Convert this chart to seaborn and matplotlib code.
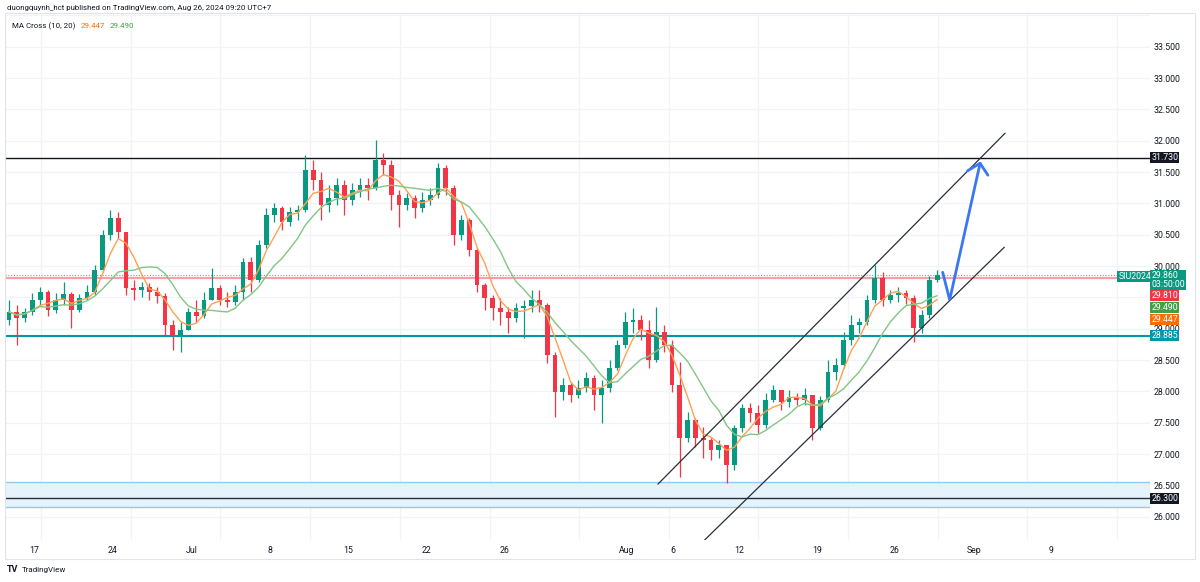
import numpy as np
import pandas as pd
import matplotlib
matplotlib.use("Agg")
import matplotlib.pyplot as plt
import matplotlib.transforms as mtransforms
from matplotlib.patches import Rectangle
import seaborn as sns

# ---------------- data (SIU2024 candles) ----------------
first_open = 29.14
close = [29.27, 29.17, 29.27, 29.46, 29.59, 29.30, 29.46, 29.55, 29.30, 29.49,
         29.59, 29.94, 30.50, 30.77, 30.54, 29.65, 29.62, 29.67, 29.59, 29.52,
         29.06, 28.90, 28.98, 29.27, 29.20, 29.46, 29.65, 29.46, 29.43, 29.59,
         30.06, 29.78, 30.34, 30.81, 30.93, 30.70, 30.86, 30.89, 31.53, 31.37,
         30.97, 31.09, 31.29, 31.05, 31.21, 31.29, 31.25, 31.69, 31.61, 31.13,
         30.97, 31.09, 30.93, 31.05, 31.13, 31.56, 31.25, 30.50, 30.73, 30.26,
         29.70, 29.49, 29.33, 29.27, 29.17, 29.33, 29.36, 29.46, 29.38, 28.58,
         27.99, 28.10, 27.94, 28.05, 28.21, 27.94, 28.05, 28.37, 28.74, 29.11,
         29.14, 28.98, 28.50, 28.95, 28.74, 28.10, 27.26, 27.54, 27.26, 27.22,
         27.06, 27.14, 26.82, 27.42, 27.74, 27.66, 27.46, 27.86, 28.02, 27.83,
         27.91, 27.86, 27.94, 27.42, 27.86, 28.31, 28.42, 28.82, 29.06, 29.11,
         29.46, 29.81, 29.46, 29.54, 29.57, 29.49, 29.01, 29.22, 29.78, 29.86]
high = [29.46, 29.38, 29.33, 29.57, 29.67, 29.62, 29.57, 29.75, 29.59, 29.55,
        29.70, 30.02, 30.58, 30.89, 30.86, 30.54, 29.78, 29.75, 29.73, 29.67,
        29.57, 29.14, 29.11, 29.33, 29.46, 29.59, 29.97, 29.70, 29.59, 29.70,
        30.13, 30.14, 30.42, 30.93, 31.01, 30.96, 30.94, 30.97, 31.77, 31.69,
        31.50, 31.29, 31.41, 31.37, 31.33, 31.41, 31.41, 32.01, 31.80, 31.69,
        31.21, 31.17, 31.13, 31.18, 31.25, 31.64, 31.61, 31.29, 30.81, 30.77,
        30.29, 29.73, 29.54, 29.49, 29.35, 29.41, 29.46, 29.62, 29.62, 29.41,
        28.63, 28.21, 28.13, 28.18, 28.31, 28.26, 28.18, 28.50, 28.82, 29.27,
        29.33, 29.22, 29.14, 29.35, 29.06, 28.82, 28.47, 27.67, 27.58, 27.43,
        27.26, 27.22, 27.14, 27.46, 27.80, 27.81, 27.78, 27.97, 28.10, 28.02,
        28.02, 27.97, 28.05, 27.94, 27.93, 28.50, 28.53, 28.95, 29.22, 29.17,
        29.54, 30.02, 29.91, 29.62, 29.67, 29.62, 29.54, 29.30, 29.84, 29.94]
low = [29.06, 28.74, 29.11, 29.22, 29.38, 29.20, 29.25, 29.38, 29.01, 29.27,
       29.46, 29.54, 29.91, 30.42, 30.45, 29.54, 29.46, 29.51, 29.46, 29.41,
       28.90, 28.66, 28.63, 28.98, 29.11, 29.17, 29.46, 29.38, 29.35, 29.38,
       29.46, 29.59, 29.75, 30.29, 30.70, 30.58, 30.64, 30.73, 30.86, 31.21,
       30.73, 30.86, 30.97, 30.81, 30.97, 31.10, 31.05, 31.21, 31.45, 30.89,
       30.62, 30.89, 30.77, 30.86, 30.97, 31.09, 31.13, 30.34, 30.42, 30.16,
       29.59, 29.30, 29.14, 29.06, 28.93, 29.11, 28.85, 29.27, 29.27, 28.45,
       27.59, 27.86, 27.83, 27.89, 27.99, 27.70, 27.50, 27.99, 28.34, 28.69,
       28.93, 28.82, 28.37, 28.47, 28.63, 27.99, 26.63, 27.19, 27.11, 26.94,
       26.91, 26.94, 26.54, 26.75, 27.35, 27.51, 27.34, 27.42, 27.83, 27.70,
       27.75, 27.78, 27.78, 27.22, 27.38, 27.83, 28.18, 28.37, 28.74, 28.93,
       29.06, 29.41, 29.36, 29.41, 29.43, 29.39, 28.79, 28.93, 29.17, 29.75]

x_tick_labels = ["17", "24", "Jul", "8", "15", "22", "26", "Aug", "6", "12", "19", "26", "Sep", "9"]
price_ticks = [26.0, 26.5, 27.0, 27.5, 28.0, 28.5, 29.0, 29.5, 30.0, 30.5,
               31.0, 31.5, 32.0, 32.5, 33.0, 33.5]
hidden_price_labels = [29.5]   # covered by the price tags in the reference

resistance = 31.730
support = 28.885
red_level = 29.810
last_price = 29.860
zone_low, zone_high, zone_mid = 26.15, 26.55, 26.300
ma_fast_value, ma_slow_value = 29.447, 29.490

# drawings: (bar index, price)
channel_upper = [(83.2, 26.52), (127.7, 32.12)]
channel_lower = [(89.2, 25.63), (127.6, 30.30)]
arrow_path = [(119.7, 29.90), (120.6, 29.46), (124.5, 31.64)]
arrow_head = [(122.9, 31.52), (124.5, 31.64), (125.5, 31.45)]

# ---------------- layout helpers ----------------
W, H = 1200, 582
BAR0_PX, BAR_PX = 9.0, 7.8


def px2bar(px):
    return (px - BAR0_PX) / BAR_PX


x_tick_px = [34, 113, 192, 270, 348, 427, 505, 627, 673, 739, 817, 895, 974, 1051]
vgrid_px = [41, 131, 220, 310, 400, 490, 579, 669, 758, 848, 938, 1027, 1117]

sns.set_theme(style="white")
plt.rcParams["font.family"] = ["Roboto", "DejaVu Sans"]

GREEN = "#089981"
RED = "#f23645"
ORANGE = "#ff6d00"
MAGREEN = "#43a047"
TEXT = "#131722"

fig = plt.figure(figsize=(W / 100, H / 100), dpi=100)
fig.patch.set_facecolor("white")
ax = fig.add_axes([5 / W, (H - 540) / H, 1145 / W, 527 / H])
ax.set_facecolor("white")

n = len(close)
idx = np.arange(n)
c = np.array(close)
o = np.r_[first_open, c[:-1]]
h = np.maximum(np.array(high), np.maximum(o, c))
l = np.minimum(np.array(low), np.minimum(o, c))
cols = np.where(c >= o, GREEN, RED)

# grid
for gx in vgrid_px:
    ax.axvline(px2bar(gx), color="#f0f3fa", lw=0.9, zorder=0)
for gy in price_ticks + [34.0]:
    ax.axhline(gy, color="#f0f3fa", lw=0.9, zorder=0)

# support zone box
ax.axhspan(zone_low, zone_high, facecolor="#e3f2fd", edgecolor="none", alpha=0.9, zorder=0.5)
ax.axhline(zone_low, color="#90caf9", lw=1.0, zorder=0.6)
ax.axhline(zone_high, color="#90caf9", lw=1.0, zorder=0.6)
ax.axhline(zone_mid, color="#2a2e39", lw=1.0, zorder=0.7)

# horizontal levels
ax.axhline(resistance, color="#131722", lw=1.0, zorder=1)
ax.axhline(support, color="#0097a7", lw=1.5, zorder=1)
ax.axhline(red_level, color="#f7a0a8", lw=1.6, zorder=1)
ax.axhline(last_price, color="#9098a1", lw=0.8, ls=(0, (1, 1.5)), zorder=1)

# candles
ax.vlines(idx, l, h, colors=cols, lw=0.9, zorder=3)
ax.bar(idx, np.maximum(np.abs(c - o), 0.015), bottom=np.minimum(o, c), width=0.6,
       color=cols, linewidth=0, zorder=4)

# moving averages (window scaled to the coarser candles)
df = pd.DataFrame({"idx": idx, "close": c})
df["ma_fast"] = df["close"].rolling(4, min_periods=1).mean()
df["ma_slow"] = df["close"].rolling(9, min_periods=1).mean()
sns.lineplot(data=df, x="idx", y="ma_fast", color="#ffa052", lw=1.0, ax=ax, legend=False, zorder=5)
sns.lineplot(data=df, x="idx", y="ma_slow", color="#81c784", lw=1.0, ax=ax, legend=False, zorder=5)

# channel lines
for line in (channel_upper, channel_lower):
    xs, ys = zip(*line)
    ax.plot(xs, ys, color="#2a2e39", lw=0.9, zorder=6)

# projected path arrow
xs, ys = zip(*arrow_path)
ax.plot(xs, ys, color="#3a78f2", lw=2.0, solid_capstyle="round", solid_joinstyle="miter", zorder=7)
xs, ys = zip(*arrow_head)
ax.plot(xs, ys, color="#3a78f2", lw=2.0, solid_capstyle="round", zorder=7)

ax.set_xlim(px2bar(5), px2bar(1150))
ax.set_ylim(25.628, 34.038)
for s in ax.spines.values():
    s.set_visible(False)

ax.set_xticks([px2bar(p) for p in x_tick_px])
ax.set_xticklabels(x_tick_labels)
ax.set_yticks(price_ticks)
ax.set_yticklabels(["" if v in hidden_price_labels else f"{v:.3f}" for v in price_ticks])
ax.yaxis.tick_right()
ax.tick_params(axis="y", length=0, pad=2.5, labelsize=6.3, labelcolor=TEXT)
ax.tick_params(axis="x", length=0, pad=4.5, labelsize=6.3, labelcolor=TEXT)
ax.set_xlabel("")
ax.set_ylabel("")

# price tags on the scale
blend = mtransforms.blended_transform_factory(ax.transAxes, ax.transData)


def tag(y, text, fc, tc="white", x=1.0012, size=6.3):
    ax.text(x, y, text, transform=blend, ha="left", va="center", fontsize=size, color=tc,
            linespacing=1.0,
            bbox=dict(boxstyle="square,pad=0.12", fc=fc, ec="none"), zorder=20, clip_on=False)


tag(resistance, f"{resistance:.3f}", TEXT)
tag(zone_mid - 0.015, f"{zone_mid:.3f}", TEXT)
tag(support + 0.005, f"{support:.3f}", "#0097a7")
tag(29.777, f"{last_price:.3f}\n03:50:00", GREEN)
tag(29.53, f"{red_level:.3f}", RED)
tag(29.34, f"{ma_slow_value:.3f}", MAGREEN)
tag(29.147, f"{ma_fast_value:.3f}", ORANGE)
tag(29.83, "SIU2024", GREEN, x=0.9725)

# outer frame
fig.add_artist(Rectangle((5 / W, (H - 559) / H), 1190 / W, (559 - 13) / H,
                         transform=fig.transFigure, fill=False, ec="#e0e3eb", lw=0.8))

# header / legend / footer text
fig.text(7 / W, 1 - 8 / H, "duongquynh_hct published on TradingView.com, Aug 26, 2024 09:20 UTC+7",
         fontsize=5.7, color=TEXT, va="center", ha="left")
renderer = fig.canvas.get_renderer()
leg_y = 1 - 26 / H
t = fig.text(12 / W, leg_y, "MA Cross (10, 20)", fontsize=5.7, color=TEXT, va="center", ha="left")
x_next = t.get_window_extent(renderer).x1 + 5
t = fig.text(x_next / W, leg_y, f"{ma_fast_value:.3f}", fontsize=5.7, color=ORANGE, va="center", ha="left")
x_next = t.get_window_extent(renderer).x1 + 5
fig.text(x_next / W, leg_y, f"{ma_slow_value:.3f}", fontsize=5.7, color=MAGREEN, va="center", ha="left")
fig.text(7 / W, 1 - 570 / H, "TV", fontsize=6.5, fontweight="bold", color=TEXT, va="center", ha="left")
fig.text(22 / W, 1 - 570 / H, "TradingView", fontsize=5.8, color=TEXT, va="center", ha="left")

fig.savefig("out.png", dpi=100)
